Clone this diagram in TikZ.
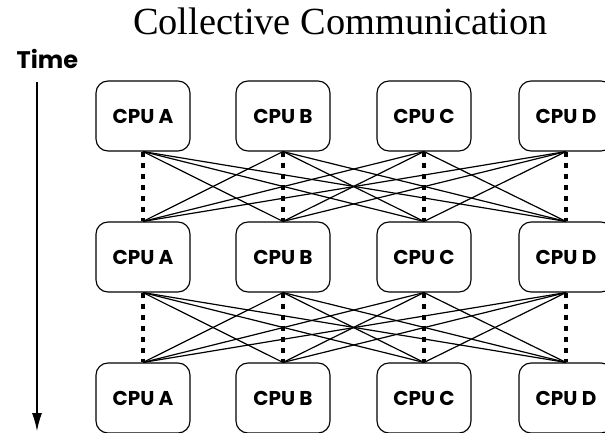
\documentclass[tikz,border=0pt]{standalone}
\usepackage{fontspec}
\setmainfont{Liberation Serif}
\setsansfont{Poppins}
\usetikzlibrary{arrows.meta}

\begin{document}
\begin{tikzpicture}[x=0.75pt,y=-0.75pt,
    cpu/.style={draw,line width=0.85pt,rounded corners=9pt,minimum width=70.5pt,minimum height=52.5pt,font=\sffamily\bfseries\fontsize{15}{16}\selectfont},
    link/.style={line width=0.9pt},
    sync/.style={line width=3pt,dash pattern=on 3.75pt off 4.5pt}]
      \useasboundingbox (0,0) rectangle (605,432);

      \node[anchor=base,font=\fontsize{28.8}{30}\selectfont] (title) at (340.5,34) {Collective Communication};
      \node[anchor=base west,font=\sffamily\bfseries\fontsize{18}{20}\selectfont] (time) at (12,68) {Time};

      \node[cpu] (a1) at (143,116) {CPU A};
      \node[cpu] (b1) at (283,116) {CPU B};
      \node[cpu] (c1) at (424,116) {CPU C};
      \node[cpu] (d1) at (566,116) {CPU D};

      \node[cpu] (a2) at (143,257) {CPU A};
      \node[cpu] (b2) at (283,257) {CPU B};
      \node[cpu] (c2) at (424,257) {CPU C};
      \node[cpu] (d2) at (566,257) {CPU D};

      \node[cpu] (a3) at (143,398) {CPU A};
      \node[cpu] (b3) at (283,398) {CPU B};
      \node[cpu] (c3) at (424,398) {CPU C};
      \node[cpu] (d3) at (566,398) {CPU D};

      \foreach \r/\s in {1/2,2/3}
        \foreach \u in {a,b,c,d}
          \foreach \v in {a,b,c,d} {
            \ifx\u\v
              \draw[sync] (\u\r.south) -- (\v\s.north);
            \else
              \draw[link] (\u\r.south) -- (\v\s.north);
            \fi
          };

      \coordinate (tstart) at (37,82);
      \coordinate (tend) at (37,431);
      \draw[line width=0.85pt,-{Latex[length=13.5pt,width=7.5pt]}] (tstart) -- (tend);
    \end{tikzpicture}
\end{document}
